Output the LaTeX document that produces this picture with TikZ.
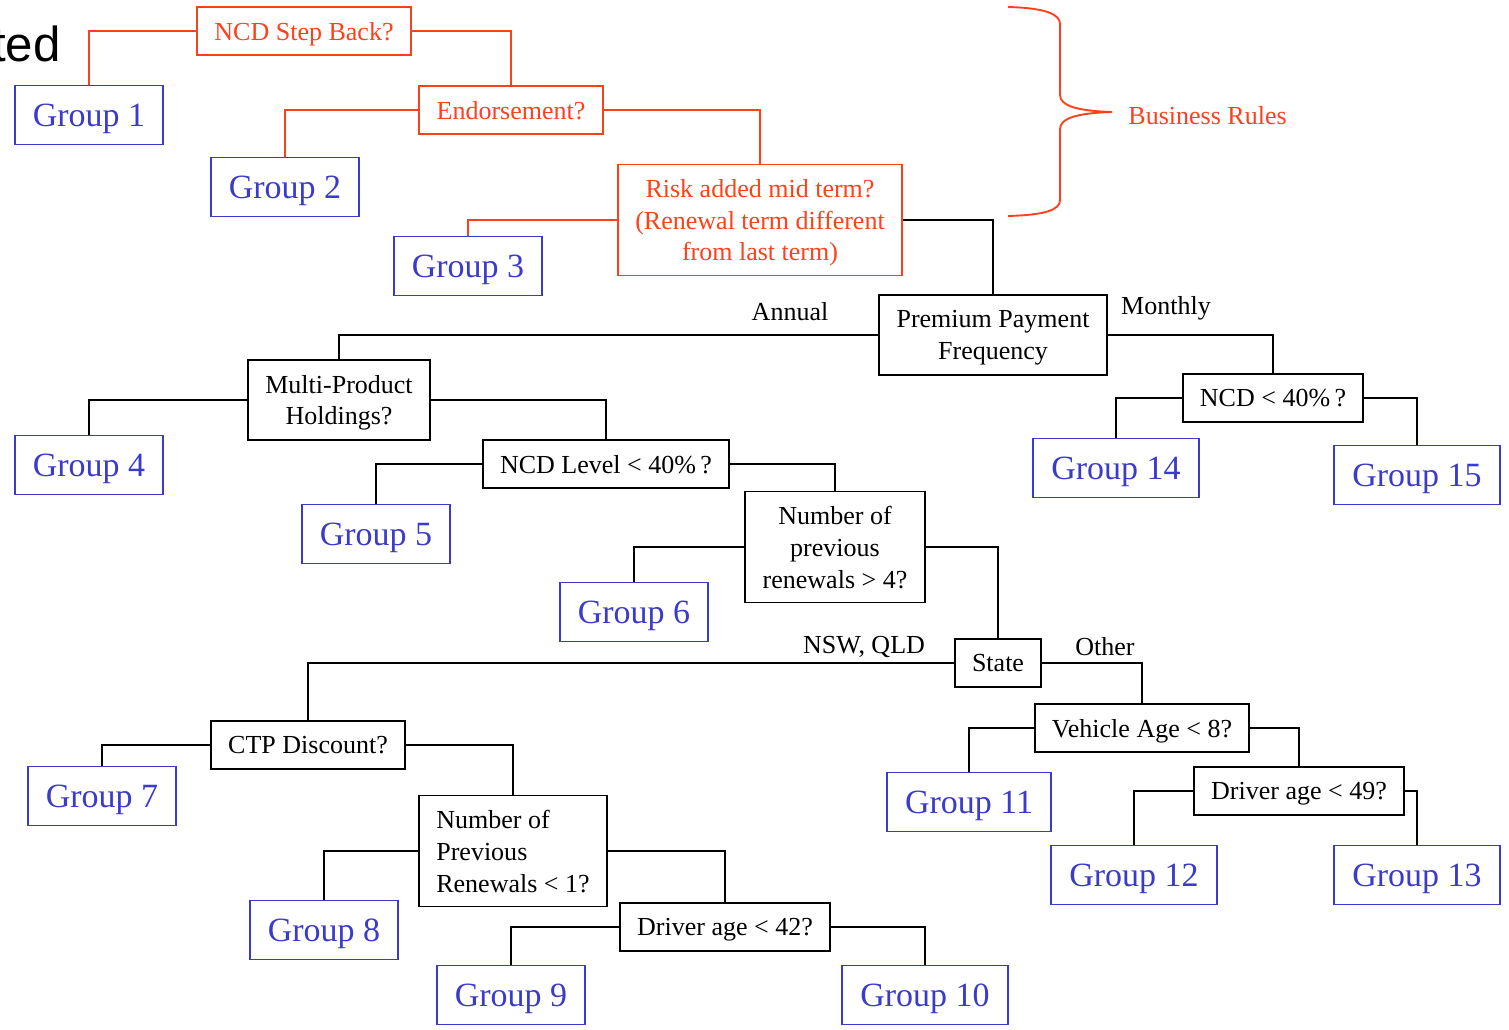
\documentclass[tikz,border=0pt]{standalone}
\usepackage{fontspec}
\setmainfont{Liberation Serif}
\newfontfamily\titlefont{Liberation Sans}
\usepackage{tikz}
\usepackage{xcolor}
\definecolor{rulered}{RGB}{255,64,26}
\definecolor{groupblue}{RGB}{58,58,204}

\begin{document}
\begin{tikzpicture}[
  x=0.015cm, y=-0.015cm,
  box/.style={draw, line width=0.8pt, inner xsep=0.26cm, inner ysep=0pt, minimum height=0.72cm, text depth=0pt, align=center, font=\fontsize{11.1pt}{13.6pt}\selectfont},
  decision/.style={box, draw=black, text=black},
  rule/.style={box, draw=rulered, text=rulered},
  group/.style={box, draw=groupblue, text=groupblue, minimum height=0.885cm, inner xsep=0.27cm, font=\fontsize{14.5pt}{17pt}\selectfont},
  branch/.style={line width=0.8pt, draw=black},
  rulebranch/.style={line width=0.8pt, draw=rulered},
  tag/.style={font=\fontsize{11.1pt}{13.6pt}\selectfont, inner sep=0pt},
]
\useasboundingbox (0,0) rectangle (1509,1030);
\node[anchor=base east, inner sep=0pt, font=\titlefont\fontsize{21pt}{25pt}\selectfont] (title) at (61,62) {ted};
% Business rules
\node[rule]  (stepback) at (304,31)  {NCD Step Back?};
\node[rule]  (endorse)  at (511,110) {Endorsement?};
\node[rule, minimum height=1.665cm] (risk) at (760,220) {Risk added mid term?\\(Renewal term different\\from last term)};
\node[group] (g1) at (89,115)  {Group 1};
\node[group] (g2) at (285,187) {Group 2};
\node[group] (g3) at (468,266) {Group 3};
% Tree
\node[decision, minimum height=1.2cm]   (freq)  at (993,335)  {Premium Payment\\Frequency};
\node[decision, minimum height=1.2cm]   (multi) at (339,400)  {Multi-Product\\Holdings?};
\node[decision] (ncdlevel) at (606,464) {NCD Level < 40\%\,?};
\node[decision, minimum height=1.665cm] (renew) at (835,547) {Number of\\previous\\renewals > 4?};
\node[decision] (state) at (998,663) {State};
\node[decision] (ctp)   at (308,745) {CTP Discount?};
\node[decision, minimum height=1.665cm, align=left] (prevren) at (513,851) {Number of\\Previous\\Renewals < 1?};
\node[decision] (drv42) at (725,927)  {Driver age < 42?};
\node[decision] (vehage) at (1142,728) {Vehicle Age < 8?};
\node[decision] (drv49) at (1299,791) {Driver age < 49?};
\node[decision] (ncd40) at (1273,398)  {NCD < 40\%\,?};
\node[group] (g4)  at (89,465)   {Group 4};
\node[group] (g5)  at (376,534)  {Group 5};
\node[group] (g6)  at (634,612)  {Group 6};
\node[group] (g7)  at (102,796)  {Group 7};
\node[group] (g8)  at (324,930)  {Group 8};
\node[group] (g9)  at (511,995)  {Group 9};
\node[group] (g10) at (925,995)  {Group 10};
\node[group] (g11) at (969,802)  {Group 11};
\node[group] (g12) at (1134,875) {Group 12};
\node[group] (g13) at (1417,875) {Group 13};
\node[group] (g14) at (1116,468) {Group 14};
\node[group] (g15) at (1417,475) {Group 15};
% Branch labels
\node[tag] (annual)  at (790,312)  {Annual};
\node[tag] (monthly) at (1166,308) {Monthly};
\node[tag] (nswqld)  at (864,647)  {NSW, QLD};
\node[tag] (other)   at (1105,647) {Other};
% Connectors
\draw[rulebranch] (stepback.west) -| (g1.north);
\draw[rulebranch] (stepback.east) -| (endorse.north);
\draw[rulebranch] (endorse.west) -| (g2.north);
\draw[rulebranch] (endorse.east) -| (risk.north);
\draw[rulebranch] (risk.west) -| (g3.north);
\draw[branch] (risk.east) -| (freq.north);
\draw[branch] (freq.west) -| (multi.north);
\draw[branch] (freq.east) -| (ncd40.north);
\draw[branch] (ncd40.west) -| (g14.north);
\draw[branch] (ncd40.east) -| (g15.north);
\draw[branch] (multi.west) -| (g4.north);
\draw[branch] (multi.east) -| (ncdlevel.north);
\draw[branch] (ncdlevel.west) -| (g5.north);
\draw[branch] (ncdlevel.east) -| (renew.north);
\draw[branch] (renew.west) -| (g6.north);
\draw[branch] (renew.east) -| (state.north);
\draw[branch] (state.west) -| (ctp.north);
\draw[branch] (state.east) -| (vehage.north);
\draw[branch] (ctp.west) -| (g7.north);
\draw[branch] (ctp.east) -| (prevren.north);
\draw[branch] (prevren.west) -| (g8.north);
\draw[branch] (prevren.east) -| (drv42.north);
\draw[branch] (drv42.west) -| (g9.north);
\draw[branch] (drv42.east) -| (g10.north);
\draw[branch] (vehage.west) -| (g11.north);
\draw[branch] (vehage.east) -| (drv49.north);
\draw[branch] (drv49.west) -| (g12.north);
\draw[branch] (drv49.east) -| (g13.north);
% Brace
\coordinate (bracetop) at (1008,7);
\coordinate (bracetip) at (1112,112);
\coordinate (bracebot) at (1008,216);
\draw[rulebranch] (bracetop) .. controls (1045,8) and (1060,14) .. (1060,24) -- (1060,95)
  .. controls (1060,106) and (1078,111) .. (bracetip)
  .. controls (1078,113) and (1060,118) .. (1060,129) -- (1060,200)
  .. controls (1060,210) and (1045,215) .. (bracebot);
\node[tag, anchor=west, text=rulered] (business) at (1128,116) {Business Rules};
\end{tikzpicture}
\end{document}
